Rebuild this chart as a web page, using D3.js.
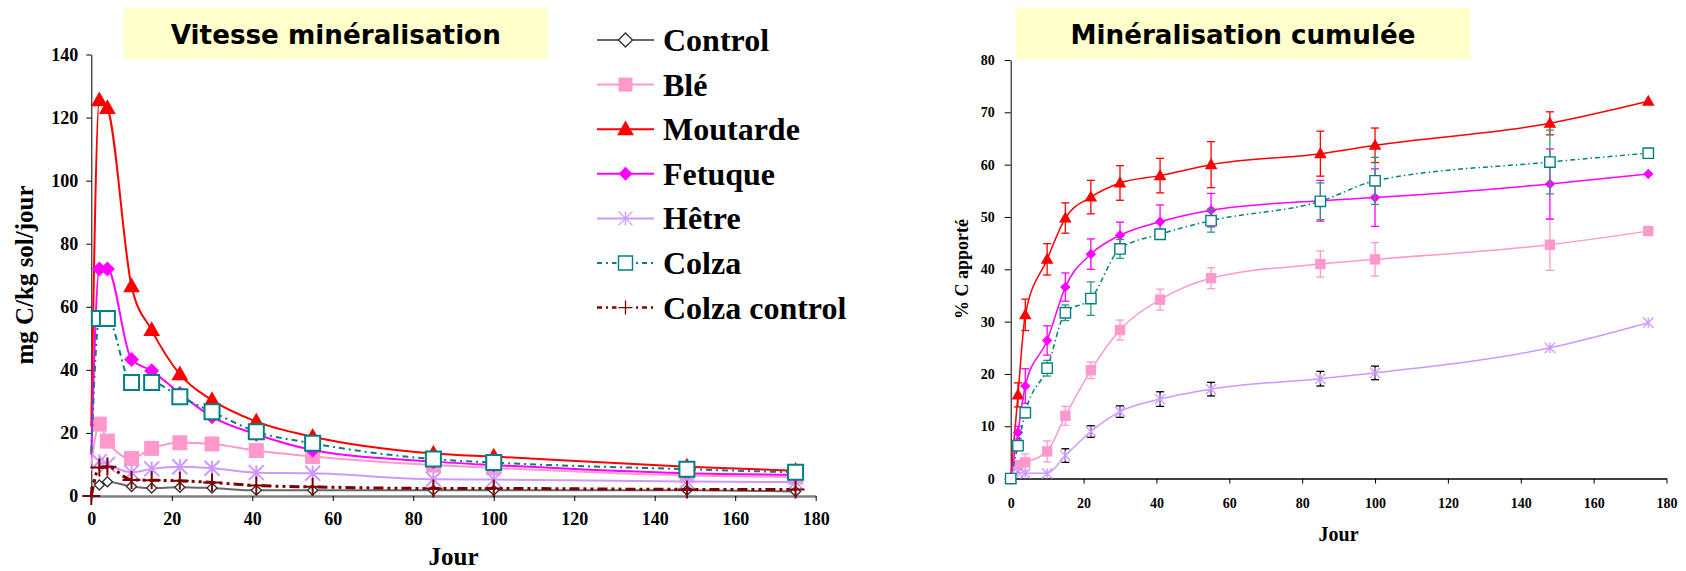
<!DOCTYPE html>
<html>
<head>
<meta charset="utf-8">
<script src="https://cdn.jsdelivr.net/npm/d3@7"></script>
<style>
  body { margin: 0; background: #fff; }
  svg { display: block; }
</style>
</head>
<body>
<svg></svg>
<script>
'use strict';

// sampling days (same for both charts)
var days = [0, 2, 4, 10, 15, 22, 30, 41, 55, 85, 100, 148, 175];

// left chart : vitesse de minéralisation (mg C/kg sol/jour)
var vControl      = [5, 3.5, 4.5, 3, 2.5, 2.8, 2.5, 1.8, 1.8, 1.8, 1.8, 1.8, 1.4];
var vBle          = [10, 22.8, 17.4, 11.9, 15.1, 16.9, 16.5, 14.4, 12.5, 9.8, 8.9, 6.5, 6];
var vMoutarde     = [22, 125.5, 123, 66.5, 52.6, 38.6, 30.4, 23.6, 18.8, 13.5, 12.5, 9.3, 8];
var vFetuque      = [13, 72, 72, 43.3, 39.7, 32.5, 25.1, 19.6, 14.6, 10.9, 9.8, 7.2, 6.7];
var vHetre        = [8, 10.9, 10, 7.5, 8.6, 9.3, 8.8, 7.4, 7.2, 5.3, 5.2, 4.6, 4.4];
var vColza        = [14, 56.3, 56.3, 36, 36, 31.5, 26.7, 20.4, 16.7, 11.7, 10.6, 8.5, 7.5];
var vColzaControl = [0, 9, 9.3, 5.1, 5, 4.8, 4.3, 3.3, 2.9, 2.4, 2.4, 2.1, 2.1];

// right chart : minéralisation cumulée (% C apporté) and error bars (+/-)
var cBle      = [0, 2.6, 3.1, 5.2, 12, 20.7, 28.4, 34.2, 38.3, 41, 41.9, 44.7, 47.3];
var eBle      = [0, 0.6, 1.6, 2, 1.8, 1.6, 1.9, 2, 2, 2.5, 3.2, 4.9, 0];
var cMoutarde = [0, 16, 31.3, 41.9, 49.8, 53.8, 56.5, 57.9, 60, 62.1, 63.7, 67.9, 72.1];
var eMoutarde = [0, 2.3, 3, 3, 2.9, 3.2, 3.3, 3.3, 4.4, 4.3, 3.3, 2.2, 0];
var cFetuque  = [0, 8.8, 17.7, 26.4, 36.6, 42.9, 46.5, 49.1, 51.3, 53.1, 53.7, 56.3, 58.2];
var eFetuque  = [0, 1.2, 3.3, 2.8, 2.7, 2.9, 2.5, 3.2, 3.2, 3.9, 5.5, 6.7, 0];
var cHetre    = [0, 1.2, 1, 1, 4.4, 9, 12.8, 15.2, 17.1, 19.1, 20.2, 25, 29.8];
var eHetre    = [0, 0, 0, 0, 1.3, 1.1, 1.1, 1.4, 1.3, 1.4, 1.3, 0, 0];
var cColza    = [0, 6.3, 12.6, 21.1, 31.7, 34.4, 43.9, 46.7, 49.3, 53, 56.9, 60.5, 62.2];
var eColza    = [0, 0.5, 1, 1.5, 1.5, 3.2, 1.8, 0.8, 2.2, 3.5, 4.5, 6.1, 0];

var xTicks = [0, 20, 40, 60, 80, 100, 120, 140, 160, 180];
var yTicksLeft = [0, 20, 40, 60, 80, 100, 120, 140];
var yTicksRight = [0, 10, 20, 30, 40, 50, 60, 70, 80];

var SERIF = '"Times New Roman", "Liberation Serif", serif';
var SANS = '"DejaVu Sans", Verdana, sans-serif';

// styles of the series
var STYLE = {
  control:      {name: 'Control', color: '#666666', marker: 'diamond', fill: '#fff', mstroke: '#333'},
  ble:          {name: 'Blé', color: '#FF99CC', marker: 'square', fill: '#FF99CC'},
  moutarde:     {name: 'Moutarde', color: '#FF0000', marker: 'triangle', fill: '#FF0000'},
  fetuque:      {name: 'Fetuque', color: '#FF00FF', marker: 'diamond', fill: '#FF00FF'},
  hetre:        {name: 'Hêtre', color: '#CC99FF', marker: 'asterisk', fill: 'none'},
  colza:        {name: 'Colza', color: '#008080', marker: 'square', fill: '#fff', mstroke: '#008080', dash: '6,4,2,4'},
  colzaControl: {name: 'Colza control', color: '#800000', marker: 'plus', fill: 'none', dash: '10,4,3,4,3,4'}
};

var svg = d3.select('svg').attr('width', 1686).attr('height', 571);

function markerPath(type, s) {
  if (type === 'diamond') return 'M0,' + (-s) + 'L' + s + ',0L0,' + s + 'L' + (-s) + ',0Z';
  if (type === 'square') return 'M' + (-s) + ',' + (-s) + 'H' + s + 'V' + s + 'H' + (-s) + 'Z';
  if (type === 'triangle') return 'M0,' + (-s * 1.1) + 'L' + (s * 1.05) + ',' + (s * 0.75) + 'L' + (-s * 1.05) + ',' + (s * 0.75) + 'Z';
  if (type === 'asterisk') return 'M' + (-s) + ',' + (-s) + 'L' + s + ',' + s + 'M' + (-s) + ',' + s + 'L' + s + ',' + (-s) + 'M0,' + (-s) + 'V' + s;
  if (type === 'plus') return 'M' + (-s) + ',0H' + s + 'M0,' + (-s) + 'V' + s;
}

function drawMarker(g, st, x, y, s, big) {
  var open = st.marker === 'asterisk' || st.marker === 'plus';
  var p = g.append('path')
    .attr('d', markerPath(st.marker, s))
    .attr('transform', 'translate(' + x + ',' + y + ')');
  if (open) {
    p.attr('fill', 'none').attr('stroke', st.color).attr('stroke-width', big ? 2 : 1.3);
  } else if (st.mstroke) {
    p.attr('fill', st.fill).attr('stroke', st.mstroke).attr('stroke-width', big ? 2 : 1.4);
  } else {
    p.attr('fill', st.fill).attr('stroke', 'none');
  }
}

function titleBox(x0, x1, label, textLen) {
  svg.append('rect')
    .attr('x', x0).attr('y', 7.5).attr('width', x1 - x0).attr('height', 51.5)
    .attr('fill', '#FFFFCC');
  svg.append('text')
    .attr('x', (x0 + x1) / 2).attr('y', 44)
    .attr('text-anchor', 'middle')
    .attr('textLength', textLen).attr('lengthAdjust', 'spacingAndGlyphs')
    .style('font-family', SANS).style('font-weight', 'bold').style('font-size', '26px')
    .text(label);
}

// ---------------- left chart ----------------
var xL = d3.scaleLinear().domain([0, 180]).range([91.3, 815.7]);
var yL = d3.scaleLinear().domain([0, 140]).range([496, 54.5]);

titleBox(123.6, 548, 'Vitesse minéralisation', 330);

var axL = svg.append('g')
  .attr('transform', 'translate(0,496)')
  .call(d3.axisBottom(xL).tickValues(xTicks).tickSize(5).tickSizeOuter(0).tickPadding(11));
axL.select('.domain').attr('stroke', '#808080').attr('stroke-width', 2.5);

var ayL = svg.append('g')
  .attr('transform', 'translate(91.3,0)')
  .call(d3.axisLeft(yL).tickValues(yTicksLeft).tickSize(5).tickSizeOuter(0).tickPadding(8));

[axL, ayL].forEach(function(a) {
  a.selectAll('text').style('font-family', SERIF).style('font-weight', 'bold')
    .style('font-size', '18px').attr('fill', '#000');
  a.selectAll('.tick line').attr('stroke', '#000');
});

var leftSeries = [
  {st: STYLE.control, v: vControl},
  {st: STYLE.ble, v: vBle},
  {st: STYLE.moutarde, v: vMoutarde},
  {st: STYLE.fetuque, v: vFetuque},
  {st: STYLE.hetre, v: vHetre},
  {st: STYLE.colza, v: vColza},
  {st: STYLE.colzaControl, v: vColzaControl}
];

var lineL = d3.line()
  .x(function(d) { return xL(d[0]); })
  .y(function(d) { return yL(d[1]); })
  .curve(d3.curveMonotoneX);

var plotL = svg.append('g');
leftSeries.forEach(function(s) {
  var pts = days.map(function(d, i) { return [d, s.v[i]]; });
  plotL.append('path')
    .attr('d', lineL(pts))
    .attr('fill', 'none')
    .attr('stroke', s.st.color)
    .attr('stroke-width', s.st === STYLE.colzaControl ? 3 : 2)
    .attr('stroke-dasharray', s.st.dash || null);
  var mg = plotL.append('g');
  pts.forEach(function(p, i) {
    // the first reading (day 0) shows no marker, except for Colza control
    if (i === 0 && s.st !== STYLE.colzaControl) return;
    var size = s.st.marker === 'triangle' ? 8 : (s.st.marker === 'plus' ? 9 : 7.5);
    if (s.st === STYLE.control) size = 5;
    drawMarker(mg, s.st, xL(p[0]), yL(p[1]), size, s.st !== STYLE.control);
  });
});

svg.append('text')
  .attr('x', (91.3 + 815.7) / 2).attr('y', 565)
  .attr('text-anchor', 'middle')
  .style('font-family', SERIF).style('font-weight', 'bold').style('font-size', '25px')
  .text('Jour');

svg.append('text')
  .attr('transform', 'translate(33,275) rotate(-90)')
  .attr('text-anchor', 'middle')
  .style('font-family', SERIF).style('font-weight', 'bold').style('font-size', '25px')
  .text('mg C/kg sol/jour');

// legend
var legend = svg.append('g');
leftSeries.forEach(function(s, i) {
  var ly = 40 + i * 44.6;
  legend.append('line')
    .attr('x1', 597).attr('x2', 654).attr('y1', ly).attr('y2', ly)
    .attr('stroke', s.st.color)
    .attr('stroke-width', s.st === STYLE.colzaControl ? 2.5 : 2)
    .attr('stroke-dasharray', s.st.dash ? '5,4,2,4' : null);
  var size = s.st.marker === 'triangle' ? 8 : 7;
  legend.append('rect')
    .attr('x', 625.5 - 9).attr('y', ly - 9).attr('width', 18).attr('height', 18)
    .attr('fill', s.st.dash ? '#fff' : 'none');
  drawMarker(legend, s.st, 625.5, ly, size, false);
  legend.append('text')
    .attr('x', 663).attr('y', ly + 11)
    .style('font-family', SERIF).style('font-weight', 'bold').style('font-size', '32px')
    .text(s.st.name);
});

// ---------------- right chart ----------------
var xR = d3.scaleLinear().domain([0, 180]).range([1010.7, 1666.5]);
var yR = d3.scaleLinear().domain([0, 80]).range([478.6, 60]);

titleBox(1016, 1470, 'Minéralisation cumulée', 345);

var axR = svg.append('g')
  .attr('transform', 'translate(0,478.6)')
  .call(d3.axisBottom(xR).tickValues(xTicks).tickSize(5).tickSizeOuter(0).tickPadding(14));
axR.select('.domain').attr('stroke', '#000').attr('stroke-width', 1.5);

var ayR = svg.append('g')
  .attr('transform', 'translate(1010.7,0)')
  .call(d3.axisLeft(yR).tickValues(yTicksRight).tickSize(6).tickSizeOuter(0).tickPadding(10));

[axR, ayR].forEach(function(a) {
  a.selectAll('text').style('font-family', SERIF).style('font-weight', 'bold')
    .style('font-size', '14px').attr('fill', '#000');
  a.selectAll('.tick line').attr('stroke', '#000');
});

var rightSeries = [
  {st: STYLE.ble, v: cBle, e: eBle, ecol: '#FF99CC'},
  {st: STYLE.moutarde, v: cMoutarde, e: eMoutarde, ecol: '#FF0000'},
  {st: STYLE.fetuque, v: cFetuque, e: eFetuque, ecol: '#FF00FF'},
  {st: STYLE.hetre, v: cHetre, e: eHetre, ecol: '#000000'},
  {st: STYLE.colza, v: cColza, e: eColza, ecol: '#2E9A78'}
];

var lineR = d3.line()
  .x(function(d) { return xR(d[0]); })
  .y(function(d) { return yR(d[1]); })
  .curve(d3.curveMonotoneX);

var plotR = svg.append('g');
rightSeries.forEach(function(s) {
  var pts = days.map(function(d, i) { return [d, s.v[i], s.e[i]]; });
  var eg = plotR.append('g').attr('stroke', s.ecol).attr('stroke-width', 1.3);
  pts.forEach(function(p) {
    if (!p[2]) return;
    var cx = xR(p[0]), y1 = yR(p[1] + p[2]), y2 = yR(p[1] - p[2]);
    eg.append('line').attr('x1', cx).attr('x2', cx).attr('y1', y1).attr('y2', y2);
    eg.append('line').attr('x1', cx - 4).attr('x2', cx + 4).attr('y1', y1).attr('y2', y1);
    eg.append('line').attr('x1', cx - 4).attr('x2', cx + 4).attr('y1', y2).attr('y2', y2);
  });
  plotR.append('path')
    .attr('d', lineR(pts))
    .attr('fill', 'none')
    .attr('stroke', s.st.color)
    .attr('stroke-width', 1.5)
    .attr('stroke-dasharray', s.st.dash ? '5,3,1.5,3' : null);
  var mg = plotR.append('g');
  pts.forEach(function(p) {
    var size = s.st.marker === 'triangle' ? 6 : 5.2;
    drawMarker(mg, s.st, xR(p[0]), yR(p[1]), size, false);
  });
});

svg.append('text')
  .attr('x', (1010.7 + 1666.5) / 2).attr('y', 541)
  .attr('text-anchor', 'middle')
  .style('font-family', SERIF).style('font-weight', 'bold').style('font-size', '20px')
  .text('Jour');

svg.append('text')
  .attr('transform', 'translate(968,269) rotate(-90)')
  .attr('text-anchor', 'middle')
  .style('font-family', SERIF).style('font-weight', 'bold').style('font-size', '18px')
  .text('% C apporté');
</script>
</body>
</html>
